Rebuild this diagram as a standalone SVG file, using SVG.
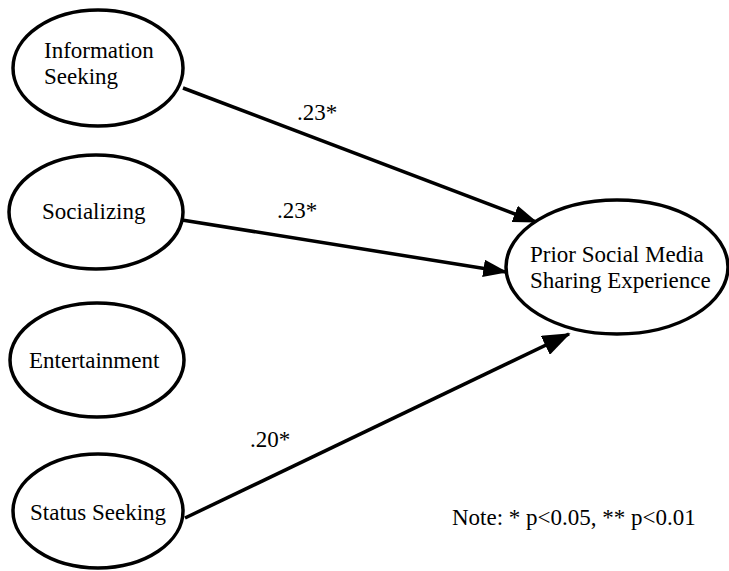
<svg xmlns="http://www.w3.org/2000/svg" width="729" height="571" viewBox="0 0 729 571">
<style>
.n{fill:#fff;stroke:#000;stroke-width:3.5}
.t{font-family:"Liberation Serif","Times New Roman",serif;font-size:23px;fill:#000}
.c{stroke:#000;stroke-width:3.5;fill:none}
</style>
<defs>
<marker id="ah" markerWidth="7" markerHeight="5" refX="6.5" refY="2.5" orient="auto" markerUnits="strokeWidth">
<path d="M0,0 L7,2.5 L0,5 Z" fill="#000"/>
</marker>
<marker id="ah2" markerWidth="8" markerHeight="6" refX="7.5" refY="3" orient="auto" markerUnits="strokeWidth">
<path d="M0,0 L8,3 L0,6 Z" fill="#000"/>
</marker>
</defs>
<rect width="729" height="571" fill="#fff"/>
<g id="connectors">
<line class="c" x1="183" y1="88" x2="536" y2="222" marker-end="url(#ah)"/>
<line class="c" x1="182" y1="220" x2="506" y2="272" marker-end="url(#ah)"/>
<line class="c" x1="185" y1="518" x2="569" y2="334" marker-end="url(#ah2)"/>
<text class="t" x="297" y="120">.23*</text>
<text class="t" x="277" y="218">.23*</text>
<text class="t" x="250" y="447">.20*</text>
</g>
<g id="info">
<ellipse class="n" cx="98" cy="68" rx="85" ry="58"/>
<text class="t" x="44" y="58">Information</text>
<text class="t" x="44" y="84">Seeking</text>
</g>
<g id="social">
<ellipse class="n" cx="96" cy="212" rx="87" ry="57"/>
<text class="t" x="42" y="219">Socializing</text>
</g>
<g id="ent">
<ellipse class="n" cx="97" cy="360" rx="87" ry="57"/>
<text class="t" x="29" y="368">Entertainment</text>
</g>
<g id="status">
<ellipse class="n" cx="98" cy="511" rx="85" ry="57"/>
<text class="t" x="30" y="520">Status Seeking</text>
</g>
<g id="prior">
<ellipse class="n" cx="617" cy="267" rx="111" ry="67"/>
<text class="t" x="530" y="262">Prior Social Media</text>
<text class="t" x="530" y="288">Sharing Experience</text>
</g>
<g id="note">
<text class="t" x="452" y="525">Note: * p&lt;0.05, ** p&lt;0.01</text>
</g>
</svg>
